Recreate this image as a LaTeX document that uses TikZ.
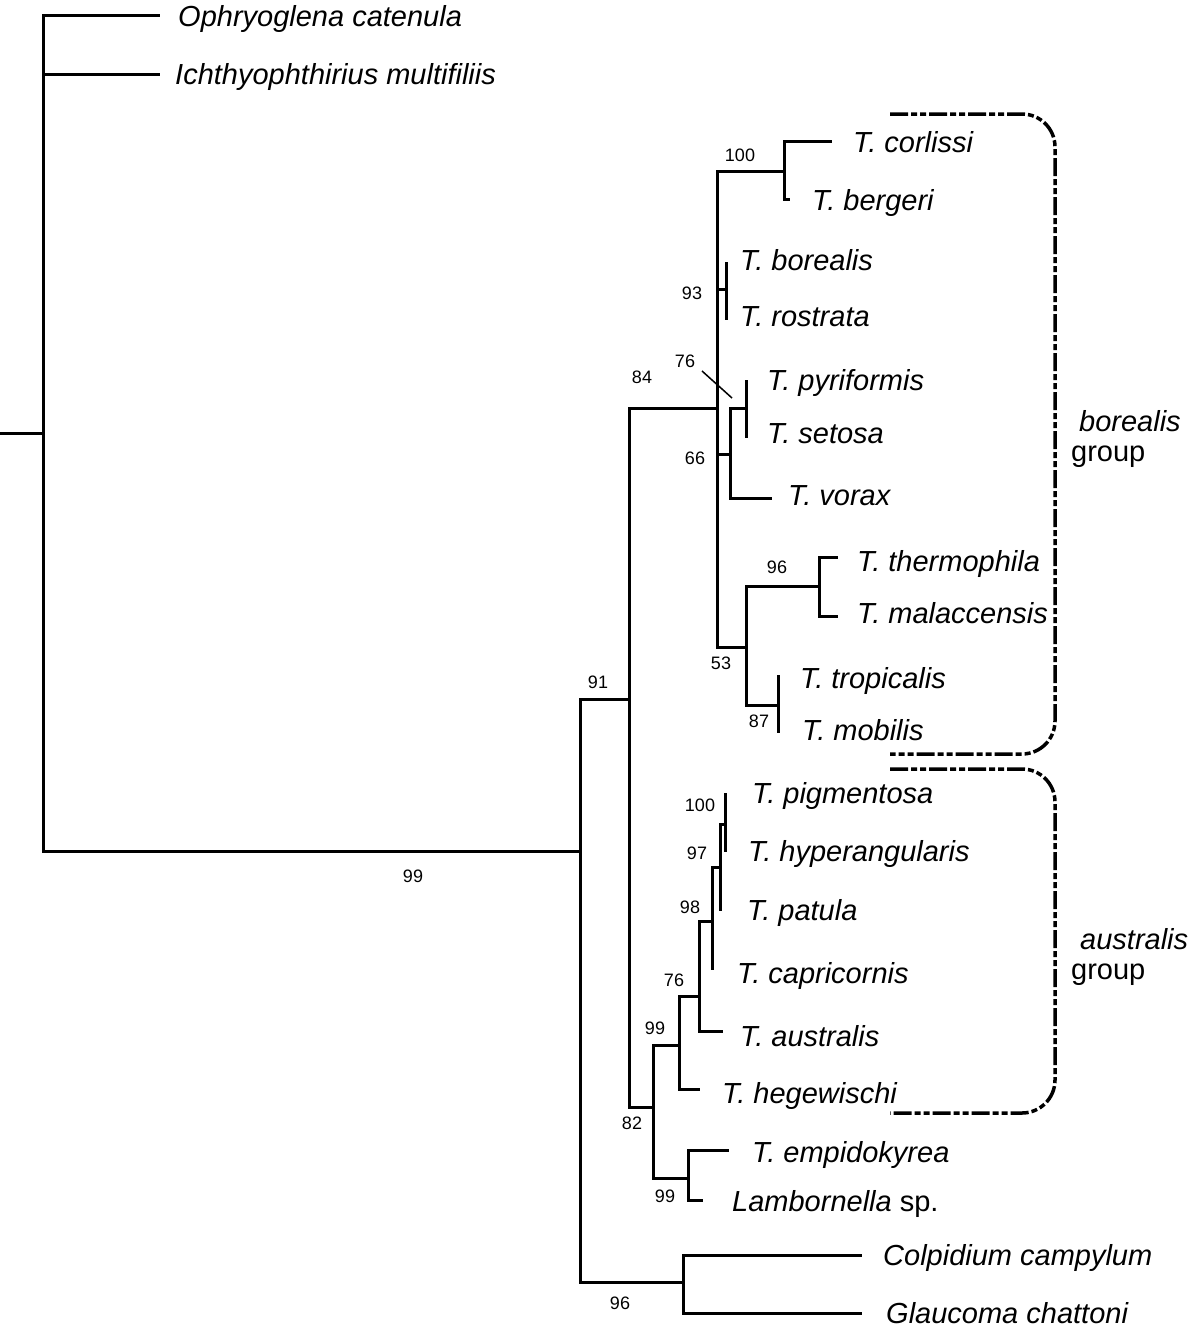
\documentclass[tikz,border=0pt]{standalone}
\usepackage{fontspec}
\setmainfont{Liberation Sans}
\begin{document}
\begin{tikzpicture}[x=1pt,y=-1pt,
  br/.style={line width=3pt},
  sp/.style={anchor=base west, inner sep=0pt, font=\fontsize{29}{34}\selectfont\itshape},
  gl/.style={anchor=base west, inner sep=0pt, font=\fontsize{29}{34}\selectfont},
  bs/.style={inner sep=0pt, font=\fontsize{18}{22}\selectfont},
  grp/.style={line width=3.5pt, rounded corners=33pt, dash pattern=on 18pt off 3pt on 6pt off 3pt on 6pt off 3pt}]
\useasboundingbox (0,0) rectangle (1200,1334);
% ---- coordinates of tree nodes
\coordinate (r0) at (0,433);
\coordinate (r) at (43,433);
\coordinate (oph) at (160,15);
\coordinate (ich) at (160,74);
\coordinate (n99) at (580,851);
\coordinate (n91) at (629,699);
\coordinate (n96b) at (683,1282);
\coordinate (col) at (862,1255);
\coordinate (gla) at (862,1313);
\coordinate (n84) at (717,408);
\coordinate (n100a) at (784,171);
\coordinate (cor) at (832,141);
\coordinate (ber) at (790,199);
\coordinate (n93) at (726,289);
\coordinate (bor) at (726,262);
\coordinate (ros) at (726,320);
\coordinate (n66) at (730,454);
\coordinate (n76a) at (746,408);
\coordinate (pyr) at (746,380);
\coordinate (set) at (746,438);
\coordinate (vor) at (772,498);
\coordinate (n53) at (746,647);
\coordinate (n96a) at (819,586);
\coordinate (the) at (838,557);
\coordinate (mal) at (838,616);
\coordinate (n87) at (778,705);
\coordinate (tro) at (778,675);
\coordinate (mob) at (778,733);
\coordinate (n82) at (653,1107);
\coordinate (n99a) at (679,1045);
\coordinate (heg) at (700,1089);
\coordinate (n76b) at (699,996);
\coordinate (aus) at (723,1031);
\coordinate (n98) at (712,921);
\coordinate (cap) at (712,970);
\coordinate (n97) at (720,867);
\coordinate (pat) at (720,911);
\coordinate (n100b) at (725,824);
\coordinate (pig) at (725,793);
\coordinate (hyp) at (725,852);
\coordinate (n99b) at (688,1178);
\coordinate (emp) at (729,1150);
\coordinate (lam) at (703,1200);
% ---- branches
\draw[br] (r0) -- (r);
\draw[br] (r) |- (oph);
\draw[br] (r) |- (ich);
\draw[br] (r) |- (n99);
\draw[br] (n99) |- (n91);
\draw[br] (n99) |- (n96b);
\draw[br] (n96b) |- (col);
\draw[br] (n96b) |- (gla);
\draw[br] (n91) |- (n84);
\draw[br] (n91) |- (n82);
\draw[br] (n84) |- (n100a);
\draw[br] (n100a) |- (cor);
\draw[br] (n100a) |- (ber);
\draw[br] (n84) |- (n93);
\draw[br] (n93) |- (bor);
\draw[br] (n93) |- (ros);
\draw[br] (n84) |- (n66);
\draw[br] (n66) |- (n76a);
\draw[br] (n76a) |- (pyr);
\draw[br] (n76a) |- (set);
\draw[br] (n66) |- (vor);
\draw[br] (n84) |- (n53);
\draw[br] (n53) |- (n96a);
\draw[br] (n96a) |- (the);
\draw[br] (n96a) |- (mal);
\draw[br] (n53) |- (n87);
\draw[br] (n87) |- (tro);
\draw[br] (n87) |- (mob);
\draw[br] (n82) |- (n99a);
\draw[br] (n99a) |- (heg);
\draw[br] (n99a) |- (n76b);
\draw[br] (n76b) |- (aus);
\draw[br] (n76b) |- (n98);
\draw[br] (n98) |- (cap);
\draw[br] (n98) |- (n97);
\draw[br] (n97) |- (pat);
\draw[br] (n97) |- (n100b);
\draw[br] (n100b) |- (pig);
\draw[br] (n100b) |- (hyp);
\draw[br] (n82) |- (n99b);
\draw[br] (n99b) |- (emp);
\draw[br] (n99b) |- (lam);
% ---- species labels
\node[sp] (Loph) at (178,26) {Ophryoglena catenula};
\node[sp] (Lich) at (175,84) {Ichthyophthirius multifiliis};
\node[sp] (Lcor) at (853,152) {T. corlissi};
\node[sp] (Lber) at (812,210) {T. bergeri};
\node[sp] (Lbor) at (740,270) {T. borealis};
\node[sp] (Lros) at (740,326) {T. rostrata};
\node[sp] (Lpyr) at (767,390) {T. pyriformis};
\node[sp] (Lset) at (767,443) {T. setosa};
\node[sp] (Lvor) at (788,505) {T. vorax};
\node[sp] (Lthe) at (857,571) {T. thermophila};
\node[sp] (Lmal) at (857,623) {T. malaccensis};
\node[sp] (Ltro) at (800,688) {T. tropicalis};
\node[sp] (Lmob) at (802,740) {T. mobilis};
\node[sp] (Lpig) at (752,803) {T. pigmentosa};
\node[sp] (Lhyp) at (748,861) {T. hyperangularis};
\node[sp] (Lpat) at (747,920) {T. patula};
\node[sp] (Lcap) at (737,983) {T. capricornis};
\node[sp] (Laus) at (740,1046) {T. australis};
\node[sp] (Lheg) at (722,1103) {T. hegewischi};
\node[sp] (Lemp) at (752,1162) {T. empidokyrea};
\node[sp] (Llam) at (732,1211) {Lambornella \upshape sp.};
\node[sp] (Lcol) at (883,1265) {Colpidium campylum};
\node[sp] (Lgla) at (886,1323) {Glaucoma chattoni};
% ---- support values
\node[bs] (b99r) at (413,876) {99};
\node[bs] (b91) at (598,682) {91};
\node[bs] (b96b) at (620,1303) {96};
\node[bs] (b84) at (642,377) {84};
\node[bs] (b100a) at (740,155) {100};
\node[bs] (b93) at (692,293) {93};
\node[bs] (b76a) at (685,361) {76};
\node[bs] (b66) at (695,458) {66};
\node[bs] (b96a) at (777,567) {96};
\node[bs] (b53) at (721,663) {53};
\node[bs] (b87) at (759,721) {87};
\node[bs] (b100b) at (700,805) {100};
\node[bs] (b97) at (697,853) {97};
\node[bs] (b98) at (690,907) {98};
\node[bs] (b76b) at (674,980) {76};
\node[bs] (b99a) at (655,1028) {99};
\node[bs] (b82) at (632,1123) {82};
\node[bs] (b99b) at (665,1196) {99};
\coordinate (l76s) at (702,371);
\coordinate (l76e) at (732,398);
\draw[line width=1.5pt] (l76s) -- (l76e);
% ---- group brackets
\coordinate (g1a) at (890,114);
\coordinate (g1b) at (1055,114);
\coordinate (g1c) at (1055,754);
\coordinate (g1d) at (890,754);
\draw[grp] (g1a) -- (g1b) -- (g1c) -- (g1d);
\coordinate (g2a) at (890,769);
\coordinate (g2b) at (1055,769);
\coordinate (g2c) at (1055,1113);
\coordinate (g2d) at (890,1113);
\draw[grp] (g2a) -- (g2b) -- (g2c) -- (g2d);
\node[sp] (Gb1) at (1079,431) {borealis};
\node[gl] (Gb2) at (1071,461) {group};
\node[sp] (Ga1) at (1080,949) {australis};
\node[gl] (Ga2) at (1071,979) {group};
\end{tikzpicture}
\end{document}
